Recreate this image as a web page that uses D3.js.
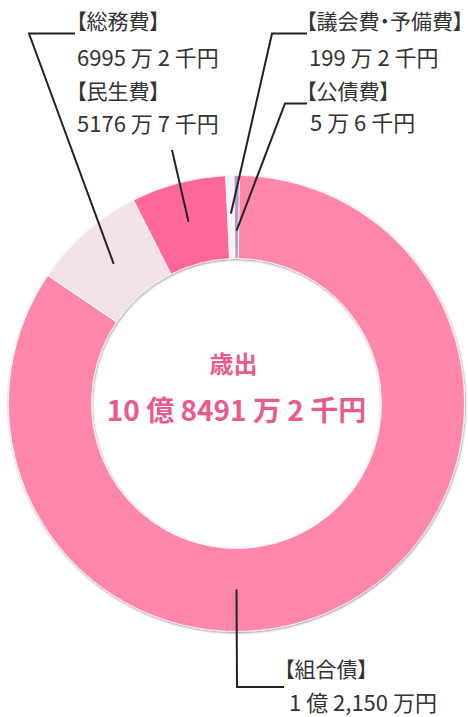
<!DOCTYPE html>
<html>
<head>
<meta charset="utf-8">
<script src="https://cdn.jsdelivr.net/npm/d3@7"></script>
<style>
  body { margin: 0; background: #fff; }
  text { font-family: "Noto Sans CJK JP", "Noto Sans", sans-serif; }
  .name { font-feature-settings: "palt"; font-size: 21px; }
  .amount { font-size: 22px; }
</style>
</head>
<body>
<div id="chart"></div>
<script>
var categories = ["組合債", "総務費", "民生費", "議会費・予備費", "公債費"];
var amountLabels = ["1 億 2,150 万円", "6995 万 2 千円", "5176 万 7 千円", "199 万 2 千円", "5 万 6 千円"];
var shares = [84.3, 8.05, 6.7, 0.58, 0.37];
var centerTitle = "歳出";
var centerTotal = "10 億 8491 万 2 千円";

var colors = ["#ff87ab", "#f2e2e9", "#fe6798", "#fdeff5", "#b49dc8"];

var width = 468, height = 717;
var cx = 236.5, cy = 403.5;
var outerR = 228, innerR = 145;
var startOffset = 0.7 * Math.PI / 180;

// label placement: elbow point, end of the horizontal tick, text position
var labelLayout = [
    {angle: Math.PI, r: 186, elbow: [237, 687], tick: 284, tx: 284, ty: 677, vx: 289, vy: 711},
    {r: 186, elbow: [29, 33.5], tick: 75, tx: 76, ty: 29, vx: 77, vy: 66},
    {r: 188, elbow: [172, 150], tick: 172, tx: 76, ty: 99, vx: 77, vy: 132},
    {r: 190, elbow: [272, 33.5], tick: 307, tx: 306, ty: 29, vx: 309, vy: 66},
    {r: 173, elbow: [285, 103.5], tick: 307, tx: 306, ty: 99, vx: 310, vy: 131}
];

var svg = d3.select("#chart")
    .append("svg")
    .attr("width", width)
    .attr("height", height);

var defs = svg.append("defs");
var shadow = defs.append("filter")
    .attr("id", "ringShadow")
    .attr("x", "-10%").attr("y", "-10%")
    .attr("width", "120%").attr("height", "120%");
shadow.append("feDropShadow")
    .attr("dx", 0.5)
    .attr("dy", 1)
    .attr("stdDeviation", 1)
    .attr("flood-color", "#000")
    .attr("flood-opacity", 0.45);

var pie = d3.pie()
    .sort(null)
    .value(function(d) { return d; })
    .startAngle(startOffset)
    .endAngle(startOffset + 2 * Math.PI);

var arcs = pie(shares);

var arc = d3.arc()
    .innerRadius(innerR)
    .outerRadius(outerR);

var ring = svg.append("g")
    .attr("transform", "translate(" + cx + "," + cy + ")")
    .attr("filter", "url(#ringShadow)");

ring.selectAll("path")
    .data(arcs)
    .enter()
    .append("path")
    .attr("d", arc)
    .attr("fill", function(d, i) { return colors[i]; })
    .attr("stroke", "#fff")
    .attr("stroke-width", 0.8);

// leader lines
var lines = svg.append("g");
arcs.forEach(function(d, i) {
    var lay = labelLayout[i];
    var a = lay.angle !== undefined ? lay.angle : (d.startAngle + d.endAngle) / 2;
    var px = cx + lay.r * Math.sin(a);
    var py = cy - lay.r * Math.cos(a);
    var pts = [[px, py], lay.elbow, [lay.tick, lay.elbow[1]]];
    lines.append("path")
        .attr("d", d3.line()(pts))
        .attr("fill", "none")
        .attr("stroke", "#222")
        .attr("stroke-width", 2);
});

var labels = svg.append("g").attr("fill", "#333");
categories.forEach(function(c, i) {
    var lay = labelLayout[i];
    labels.append("text")
        .attr("class", "name")
        .attr("x", lay.tx)
        .attr("y", lay.ty)
        .text("【" + c + "】");
    labels.append("text")
        .attr("class", "amount")
        .attr("x", lay.vx)
        .attr("y", lay.vy)
        .text(amountLabels[i]);
});

// centre
svg.append("text")
    .attr("x", cx - 3)
    .attr("y", 373)
    .attr("text-anchor", "middle")
    .attr("fill", "#ea5a8c")
    .style("font-size", "24px")
    .style("font-weight", "bold")
    .text(centerTitle);

svg.append("text")
    .attr("x", cx)
    .attr("y", 421)
    .attr("text-anchor", "middle")
    .attr("fill", "#ea5a8c")
    .style("font-size", "28px")
    .style("font-weight", "bold")
    .text(centerTotal);
</script>
</body>
</html>
